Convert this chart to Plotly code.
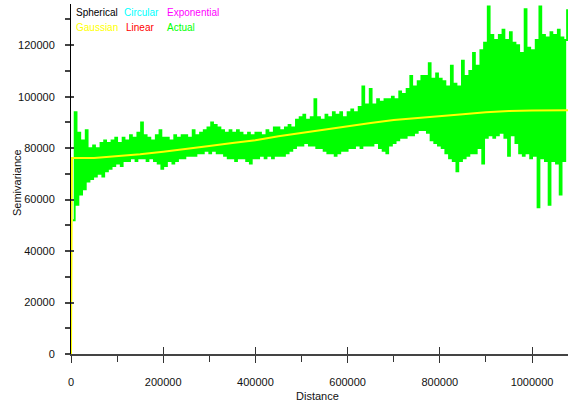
import numpy as np
import plotly.graph_objects as go

# ---- data (semivariance values in thousands) ----
lag_step = 4000  # distance between lag bins
actual_k = [
    52, 94, 58, 86, 62, 83, 64, 87, 67, 80,
    68, 81, 69, 80, 70, 82, 69, 83, 71, 82,
    72, 83, 73, 84, 74, 82, 73, 84, 75, 83,
    75, 85, 76, 84, 75, 86, 76, 90, 76, 85,
    75, 84, 76, 83, 75, 85, 74, 87, 72, 84,
    73, 84, 75, 83, 74, 85, 75, 84, 76, 85,
    76, 85, 77, 84, 77, 87, 77, 85, 78, 86,
    78, 87, 79, 88, 78, 90, 79, 89, 78, 88,
    78, 87, 77, 86, 76, 87, 76, 86, 75, 87,
    76, 86, 76, 85, 75, 86, 74, 85, 76, 86,
    76, 86, 77, 85, 76, 87, 77, 86, 76, 88,
    77, 88, 77, 87, 77, 88, 78, 89, 79, 88,
    80, 91, 81, 92, 81, 93, 82, 91, 81, 92,
    81, 99, 80, 92, 80, 91, 79, 93, 78, 92,
    78, 94, 77, 93, 78, 94, 79, 92, 79, 94,
    80, 95, 80, 94, 81, 96, 80, 104, 81, 97,
    81, 103, 81, 97, 82, 99, 80, 98, 79, 99,
    78, 99, 81, 100, 82, 99, 83, 102, 84, 101,
    84, 103, 85, 108, 85, 104, 86, 106, 87, 108,
    87, 108, 86, 113, 83, 107, 82, 109, 81, 107,
    80, 106, 78, 104, 76, 112, 75, 105, 71, 104,
    75, 114, 76, 108, 77, 110, 78, 117, 78, 112,
    80, 118, 74, 121, 84, 135, 85, 124, 84, 122,
    85, 124, 86, 126, 84, 122, 77, 125, 85, 121,
    82, 120, 78, 117, 77, 134, 78, 119, 76, 118,
    77, 122, 57, 135, 76, 124, 75, 123, 58, 125,
    75, 124, 74, 126, 62, 123, 75, 122, 134,
]
actual_dist = np.arange(1, len(actual_k) + 1) * lag_step
actual = np.array(actual_k) * 1000

gauss_dist = [0, 2000, 50000, 100000, 150000, 200000, 250000, 300000, 350000,
              400000, 450000, 500000, 550000, 600000, 650000, 700000, 750000,
              800000, 850000, 900000, 950000, 1000000, 1078000]
gauss_k = [0, 76.2, 76.2, 76.8, 77.6, 78.6, 79.6, 80.8, 82.0, 83.1, 84.6, 85.9,
           87.3, 88.6, 89.8, 90.9, 91.7, 92.6, 93.2, 93.9, 94.4, 94.6, 94.7]
gauss = np.array(gauss_k) * 1000

legend_names = ["Spherical", "Circular", "Exponential", "Gaussian", "Linear", "Actual"]
legend_colors = ["#000000", "#00ffff", "#ff00ff", "#ffff00", "#ff0000", "#00ff00"]

x_range = [0, 1078000]
y_range = [0, 136000]
x_ticks = [0, 200000, 400000, 600000, 800000, 1000000]
y_ticks = [0, 20000, 40000, 60000, 80000, 100000, 120000]

FONT = "Liberation Sans, Arial, sans-serif"

fig = go.Figure()
fig.add_trace(go.Scatter(x=actual_dist, y=actual, mode="lines",
                         line=dict(color="#00ff00", width=1.9, shape="hv"),
                         name="Actual", showlegend=False))
fig.add_trace(go.Scatter(x=gauss_dist, y=gauss, mode="lines",
                         line=dict(color="#ffff00", width=2), name="Gaussian",
                         showlegend=False))

# legend as coloured text
leg_x = [3, 51, 94, 3, 53, 94]
leg_y = [13, 13, 13, 27, 27, 27]
W, H = 568, 405
L, R, T, B = 71, 0, 4, 51
pw, ph = W - L - R, H - T - B
for name, col, lx, ly in zip(legend_names, legend_colors, leg_x, leg_y):
    fig.add_annotation(text=name, xref="paper", yref="paper",
                       x=lx / pw, y=1 - (ly - T) / ph, xanchor="left",
                       yanchor="middle", showarrow=False,
                       font=dict(family=FONT, size=10, color=col))

fig.add_annotation(text="Semivariance", xref="paper", yref="paper",
                   x=(17 - L) / pw, y=1 - (183 - T) / ph, textangle=-90,
                   xanchor="center", yanchor="middle", showarrow=False,
                   font=dict(family=FONT, size=11, color="#111"))
fig.add_annotation(text="Distance", xref="paper", yref="paper",
                   x=(317 - L) / pw, y=1 - (396 - T) / ph,
                   xanchor="center", yanchor="middle", showarrow=False,
                   font=dict(family=FONT, size=11, color="#111"))

fig.update_layout(
    width=W, height=H,
    margin=dict(l=L, r=R, t=T, b=B, pad=0),
    paper_bgcolor="white", plot_bgcolor="white",
    font=dict(family=FONT, size=11, color="#111"),
    showlegend=False,
    xaxis=dict(range=x_range, tickvals=x_ticks, ticktext=[str(v) for v in x_ticks],
               showgrid=False, zeroline=False, showline=True, linecolor="#444",
               linewidth=2, ticks="outside", ticklen=7, tickcolor="#333",
               tickwidth=1, ticklabelstandoff=10, layer="below traces",
               minor=dict(dtick=100000, tick0=0, ticks="outside", ticklen=6,
                          tickcolor="#333", tickwidth=1, showgrid=False)),
    yaxis=dict(range=y_range, tickvals=y_ticks, ticktext=[str(v) for v in y_ticks],
               showgrid=False, zeroline=False, showline=True, linecolor="#000",
               linewidth=1, ticks="outside", ticklen=5, tickcolor="#444",
               tickwidth=2, ticklabelstandoff=8, layer="below traces",
               minor=dict(dtick=10000, tick0=0, ticks="outside", ticklen=5,
                          tickcolor="#444", tickwidth=2, showgrid=False)),
    xaxis2=dict(overlaying="x", matches="x", range=x_range, tickvals=x_ticks,
                showticklabels=False, ticks="inside", ticklen=7, tickcolor="#333",
                showgrid=False, zeroline=False, showline=False, side="bottom",
                anchor="y"),
    yaxis2=dict(overlaying="y", matches="y", range=y_range, tickvals=y_ticks,
                showticklabels=False, ticks="inside", ticklen=3, tickcolor="#444",
                tickwidth=2, showgrid=False, zeroline=False, showline=False,
                side="left", anchor="x"),
)
# invisible trace to activate the overlay axes
fig.add_trace(go.Scatter(x=[None], y=[None], xaxis="x2", yaxis="y2",
                         showlegend=False, hoverinfo="skip"))

fig.write_html("out.html")
